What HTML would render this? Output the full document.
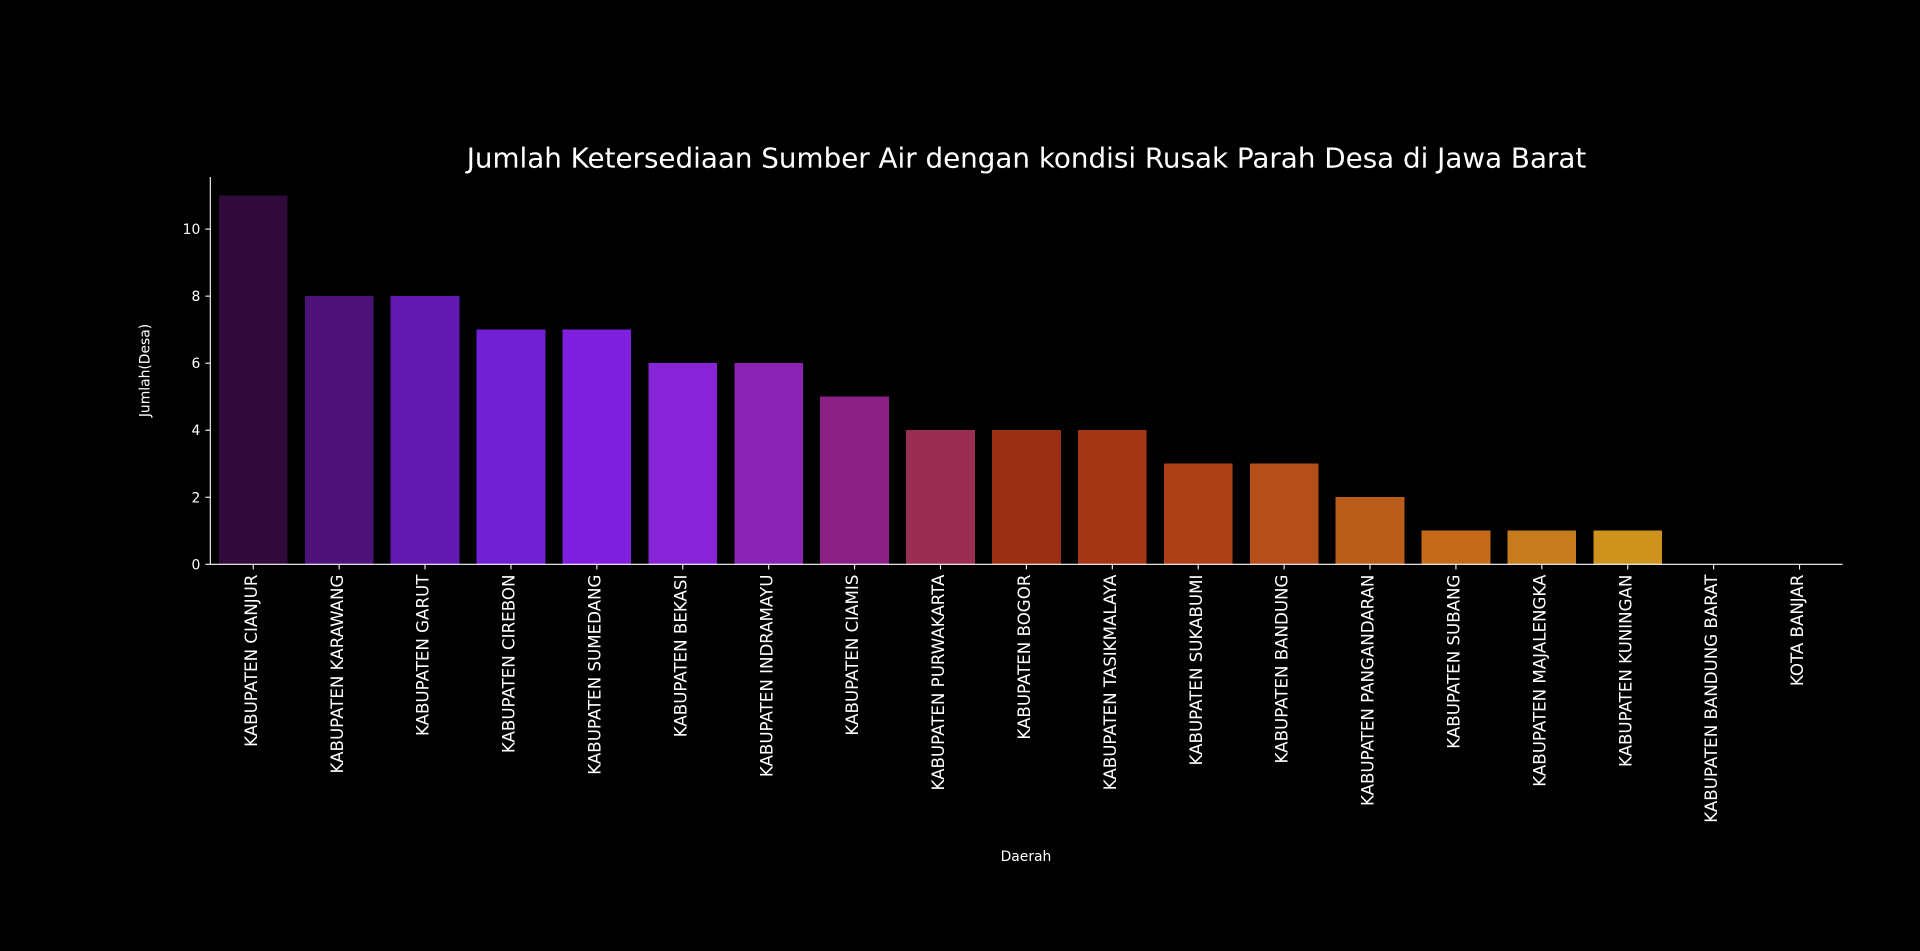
<!DOCTYPE html>
<html lang="id">
<head>
<meta charset="utf-8">
<title>Jumlah Ketersediaan Sumber Air dengan kondisi Rusak Parah Desa di Jawa Barat</title>
<style>
  html, body { margin: 0; padding: 0; background: #000; }
  svg { display: block; }
  text { font-family: "DejaVu Sans", "Liberation Sans", sans-serif; fill: #fff; }
</style>
</head>
<body>
<svg id="chart" xmlns="http://www.w3.org/2000/svg" width="1920" height="951" viewBox="0 0 1920 951">
  <rect x="0" y="0" width="1920" height="951" fill="#000"></rect>
  <g id="bars" shape-rendering="crispEdges"></g>
  <g id="y-axis"></g>
  <g id="x-axis"></g>
  <text x="1026.5" y="167.3" font-size="27.78" text-anchor="middle">Jumlah Ketersediaan Sumber Air dengan kondisi Rusak Parah Desa di Jawa Barat</text>
  <text x="1026" y="861" font-size="13.89" text-anchor="middle">Daerah</text>
  <text transform="translate(149.3 370.5) rotate(-90)" font-size="13.89" text-anchor="middle">Jumlah(Desa)</text>
</svg>
<script>
const categories = [
  "KABUPATEN CIANJUR", "KABUPATEN KARAWANG", "KABUPATEN GARUT", "KABUPATEN CIREBON",
  "KABUPATEN SUMEDANG", "KABUPATEN BEKASI", "KABUPATEN INDRAMAYU", "KABUPATEN CIAMIS",
  "KABUPATEN PURWAKARTA", "KABUPATEN BOGOR", "KABUPATEN TASIKMALAYA", "KABUPATEN SUKABUMI",
  "KABUPATEN BANDUNG", "KABUPATEN PANGANDARAN", "KABUPATEN SUBANG", "KABUPATEN MAJALENGKA",
  "KABUPATEN KUNINGAN", "KABUPATEN BANDUNG BARAT", "KOTA BANJAR"
];
const seriesValues = [11, 8, 8, 7, 7, 6, 6, 5, 4, 4, 4, 3, 3, 2, 1, 1, 1, 0, 0];
const yTickValues = [0, 2, 4, 6, 8, 10];
const barColors = [
  "#310A3C", "#4D137B", "#631AB0", "#7220D4", "#7F20DE", "#8724D8", "#8B23B5", "#8B2084",
  "#9A2D52", "#9A2F14", "#A43615", "#AD4017", "#B44F1A", "#BA5D1A", "#C46B1B", "#C67B1D",
  "#CE931D", "#CE931D", "#CE931D"
];

const SVG_NS = "http://www.w3.org/2000/svg";
const plotLeft = 210.3;
const plotRight = 1842.5;
const plotTop = 177;
const plotBottom = 564;
const pixelsPerUnit = 33.52;
const bandWidth = (plotRight - plotLeft) / categories.length;

function xCenter(index) {
  return plotLeft + bandWidth * (index + 0.5);
}
function yScale(value) {
  return plotBottom - value * pixelsPerUnit;
}
function make(tag, attrs, parent) {
  const el = document.createElementNS(SVG_NS, tag);
  for (const key in attrs) el.setAttribute(key, attrs[key]);
  parent.appendChild(el);
  return el;
}

const barsGroup = document.getElementById("bars");
const yAxisGroup = document.getElementById("y-axis");
const xAxisGroup = document.getElementById("x-axis");

seriesValues.forEach(function (value, i) {
  const top = yScale(value);
  const bar = make("rect", {
    x: xCenter(i) - bandWidth * 0.4,
    y: top,
    width: bandWidth * 0.8,
    height: plotBottom - top,
    fill: barColors[i]
  }, barsGroup);
  
  
});

const ySpine = make("line", {
  x1: plotLeft, x2: plotLeft, y1: plotTop, y2: plotBottom + 0.5,
  stroke: "#fff", "stroke-width": 1.1
}, yAxisGroup);



const xSpine = make("line", {
  x1: plotLeft - 0.5, x2: plotRight, y1: plotBottom + 0.3, y2: plotBottom + 0.3,
  stroke: "#fff", "stroke-width": 1.1
}, xAxisGroup);



yTickValues.forEach(function (value) {
  const y = yScale(value);
  const tick = make("line", {
    x1: plotLeft - 4.9, x2: plotLeft, y1: y + 0.3, y2: y + 0.3,
    stroke: "#fff", "stroke-width": 1.1
  }, yAxisGroup);
  
  
  const label = make("text", {
    x: plotLeft - 10, y: y + 5.3, "font-size": 13.89, "text-anchor": "end"
  }, yAxisGroup);
  label.textContent = String(value);
  
  
});

categories.forEach(function (name, i) {
  const x = xCenter(i);
  const tick = make("line", {
    x1: x, x2: x, y1: plotBottom, y2: plotBottom + 5.4,
    stroke: "#fff", "stroke-width": 1.1
  }, xAxisGroup);
  
  
  const label = make("text", {
    transform: "translate(" + (x + 3.6) + " 574.6) rotate(-90)",
    "font-size": 16.67,
    "text-anchor": "end"
  }, xAxisGroup);
  label.textContent = name;
  
  
});
</script>
</body>
</html>
